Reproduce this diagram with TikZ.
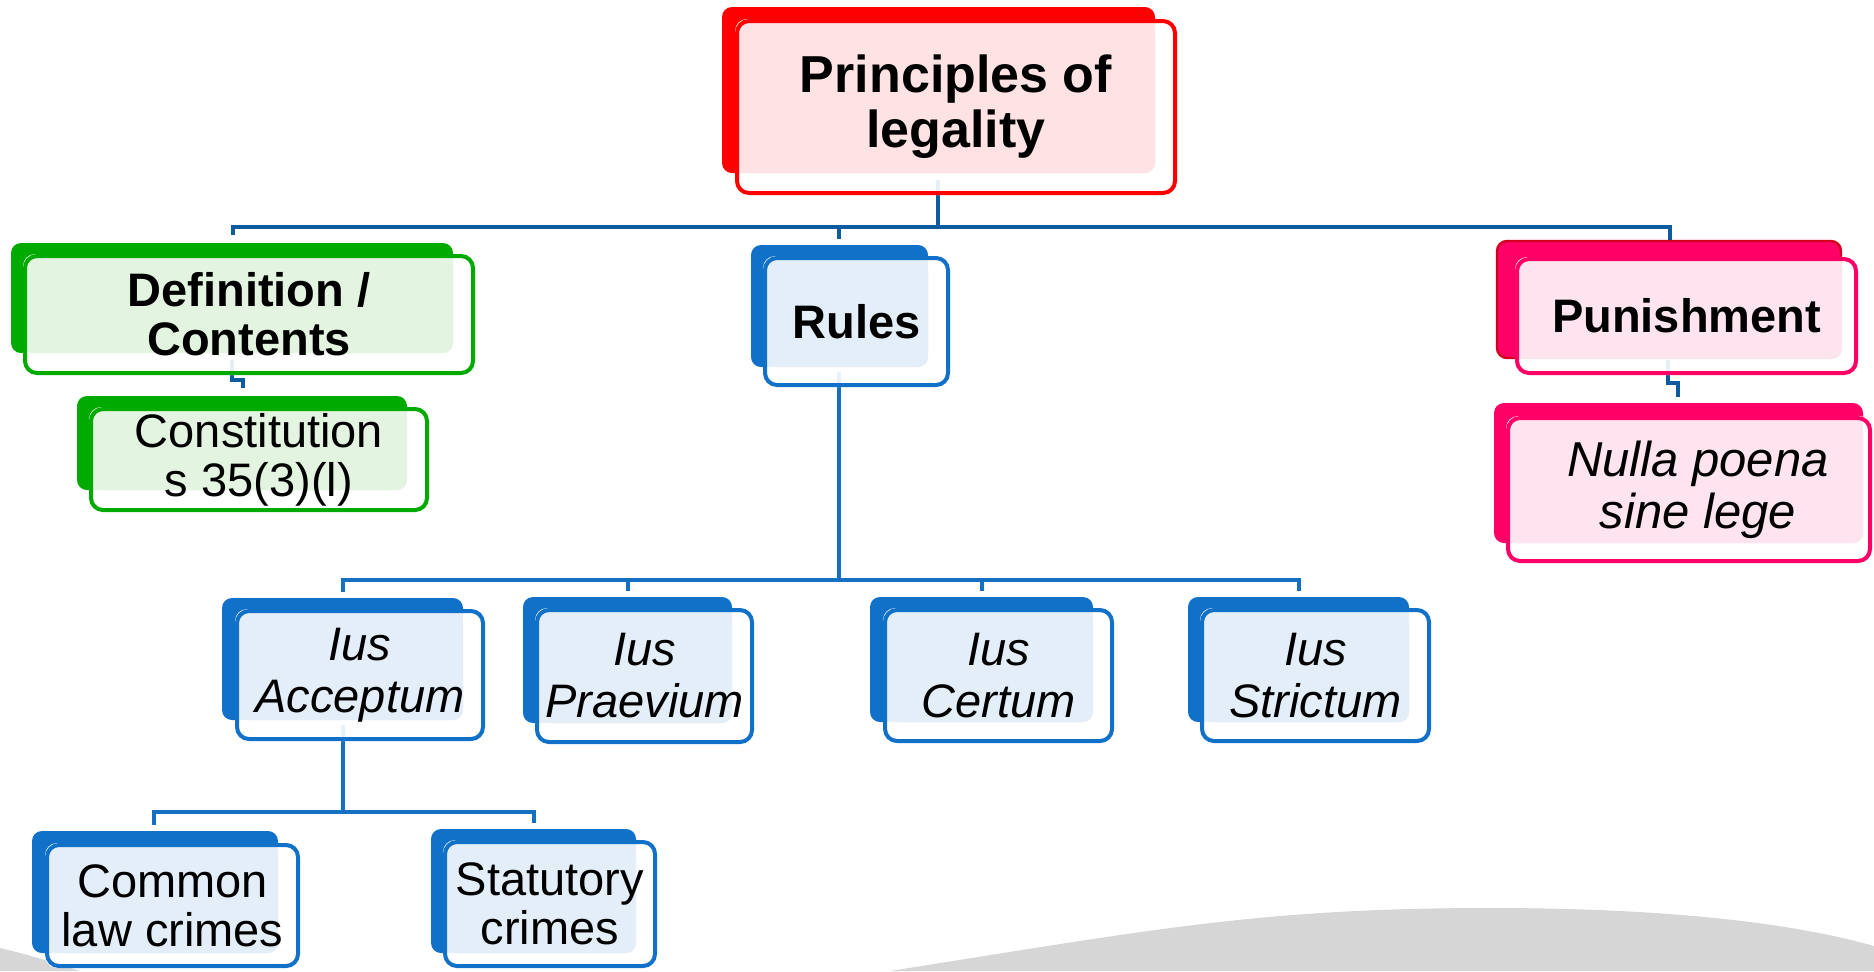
\documentclass[tikz,border=0pt]{standalone}
\usepackage{fontspec}
\setmainfont{Liberation Sans}
\usetikzlibrary{backgrounds,calc}
\definecolor{rootred}{HTML}{FF0000}
\definecolor{rootfill}{HTML}{FFE3E4}
\definecolor{grn}{HTML}{00AA00}
\definecolor{grnfill}{HTML}{E3F5E1}
\definecolor{blu}{HTML}{1170C8}
\definecolor{blufill}{HTML}{E4EEF8}
\definecolor{pnk}{HTML}{FF0066}
\definecolor{pnkdark}{HTML}{D0001E}
\definecolor{pnkfill}{HTML}{FDE4EE}
\definecolor{linetop}{HTML}{0F5BA0}
\definecolor{linelow}{HTML}{1570C4}
\definecolor{wave}{HTML}{D6D6D6}
\newcommand\fRoot{\fontsize{26}{27.5}\selectfont\bfseries}
\newcommand\fLevel{\fontsize{23.5}{24.5}\selectfont\bfseries}
\newcommand\fPlain{\fontsize{23.5}{24.5}\selectfont}
\newcommand\fIus{\fontsize{23.5}{26}\selectfont\itshape}
\newcommand\fNulla{\fontsize{24.5}{26}\selectfont\itshape}
% #1 node, #2 back style, #3 light fill, #4-#7 back rectangle
\newcommand\mkboxbg[7]{%
  \path[#2, rounded corners=5pt] (#4,#5) rectangle (#6,#7);
  \fill[white, fill opacity=.9, rounded corners=6pt] (#1.north west) rectangle (#1.south east);
  \fill[#3, rounded corners=5pt] ($(#1.north west)+(4,4)$) rectangle (#6,#7);
}
\begin{document}
\begin{tikzpicture}[x=0.5pt,y=-0.5pt,
  front/.style={draw=#1, line width=2pt, rounded corners=6pt, inner sep=0pt, align=center},
  conntop/.style={draw=linetop, line width=2.2pt},
  connlow/.style={draw=linelow, line width=2pt}]
\useasboundingbox (0,0) rectangle (1874,971);

% front boxes (text)
\node[front=rootred, minimum width=219pt, minimum height=86pt, font=\fRoot] (root) at (956,107) {Principles of\\legality};
\node[front=grn, minimum width=224pt, minimum height=58.5pt, font=\fLevel] (defn) at (249,314.5) {Definition /\\Contents};
\node[front=grn, minimum width=168pt, minimum height=50.5pt, font=\fPlain] (const) at (259,459.5) {Constitution\\s 35(3)(l)};
\node[front=blu, minimum width=91.5pt, minimum height=63.5pt, font=\fLevel] (rules) at (856.5,321.5) {Rules};
\node[front=pnk, minimum width=169.5pt, minimum height=57pt, font=\fLevel] (pun) at (1686.5,316) {Punishment};
\node[front=pnk, minimum width=181pt, minimum height=71.5pt, font=\fNulla] (nulla) at (1689,489.5) {\hspace*{9pt}Nulla poena\\\hspace*{9pt}sine lege};
\node[front=blu, minimum width=123pt, minimum height=64pt, font=\fIus] (acc) at (360,675) {Ius\\Acceptum};
\node[front=blu, minimum width=107.5pt, minimum height=66pt, font=\fIus] (prae) at (644.5,676) {Ius\\Praevium};
\node[front=blu, minimum width=113.5pt, minimum height=65.5pt, font=\fIus] (cert) at (998.5,675.5) {Ius\\Certum};
\node[front=blu, minimum width=113.5pt, minimum height=65.5pt, font=\fIus] (stri) at (1315.5,675.5) {Ius\\Strictum};
\node[front=blu, minimum width=125.5pt, minimum height=60.5pt, font=\fPlain] (comm) at (172.5,905.5) {Common\\law crimes};
\node[front=blu, minimum width=105pt, minimum height=62pt, font=\fPlain] (stat) at (550,904) {Statutory\\crimes};

\begin{pgfonlayer}{background}
% background wave
\fill[wave] (890,971) .. controls (1150,930) and (1260,908) .. (1490,908)
  .. controls (1680,908) and (1800,925) .. (1874,946) -- (1874,971) -- cycle;
\fill[wave] (0,948) .. controls (30,955) and (55,963) .. (80,971) -- (0,971) -- cycle;

% connectors
\draw[conntop] ($(root.south)+(-18,-15)$) -- ++(0,47) -| ($(defn.north)+(-16,-19)$);
\draw[conntop] ($(root.south)+(-18,-15)$) -- ++(0,47) -| ($(rules.north)+(-17.5,-17)$);
\draw[conntop] ($(root.south)+(-18,-15)$) -- ++(0,47) -| ($(pun.north)+(-16.5,-17)$);
\draw[conntop] ($(defn.south)+(-17,-15)$) -- ++(0,20) -| ($(const.north)+(-16,-19)$);
\draw[conntop] ($(pun.south)+(-18.5,-15)$) -- ++(0,23) -| ($(nulla.north)+(-11,-19)$);
\draw[connlow] ($(rules.south)+(-17.5,-15)$) -- ++(0,208) -| ($(acc.north)+(-17,-17)$);
\draw[connlow] ($(rules.south)+(-17.5,-15)$) -- ++(0,208) -| ($(prae.north)+(-17,-17)$);
\draw[connlow] ($(rules.south)+(-17.5,-15)$) -- ++(0,208) -| ($(cert.north)+(-17,-17)$);
\draw[connlow] ($(rules.south)+(-17.5,-15)$) -- ++(0,208) -| ($(stri.north)+(-17,-17)$);
\draw[connlow] ($(acc.south)+(-17,-16)$) -- ++(0,87) -| ($(comm.north)+(-18.5,-18)$);
\draw[connlow] ($(acc.south)+(-17,-16)$) -- ++(0,87) -| ($(stat.north)+(-16,-17)$);

% box backs and fills
\mkboxbg{root}{fill=rootred}{rootfill}{722}{7}{1155}{173}
\mkboxbg{defn}{fill=grn}{grnfill}{11}{243}{453}{353}
\mkboxbg{const}{fill=grn}{grnfill}{77}{396}{407}{490}
\mkboxbg{rules}{fill=blu}{blufill}{751}{245}{928}{367}
\mkboxbg{pun}{fill=pnk,draw=pnkdark,line width=1.2pt}{pnkfill}{1497}{241}{1841}{358}
\mkboxbg{nulla}{fill=pnk}{pnkfill}{1494}{403}{1863}{543}
\mkboxbg{acc}{fill=blu}{blufill}{222}{598}{463}{720}
\mkboxbg{prae}{fill=blu}{blufill}{523}{597}{732}{723}
\mkboxbg{cert}{fill=blu}{blufill}{870}{597}{1093}{722}
\mkboxbg{stri}{fill=blu}{blufill}{1188}{597}{1409}{722}
\mkboxbg{comm}{fill=blu}{blufill}{32}{831}{278}{953}
\mkboxbg{stat}{fill=blu}{blufill}{431}{829}{636}{953}
\end{pgfonlayer}
\end{tikzpicture}
\end{document}
